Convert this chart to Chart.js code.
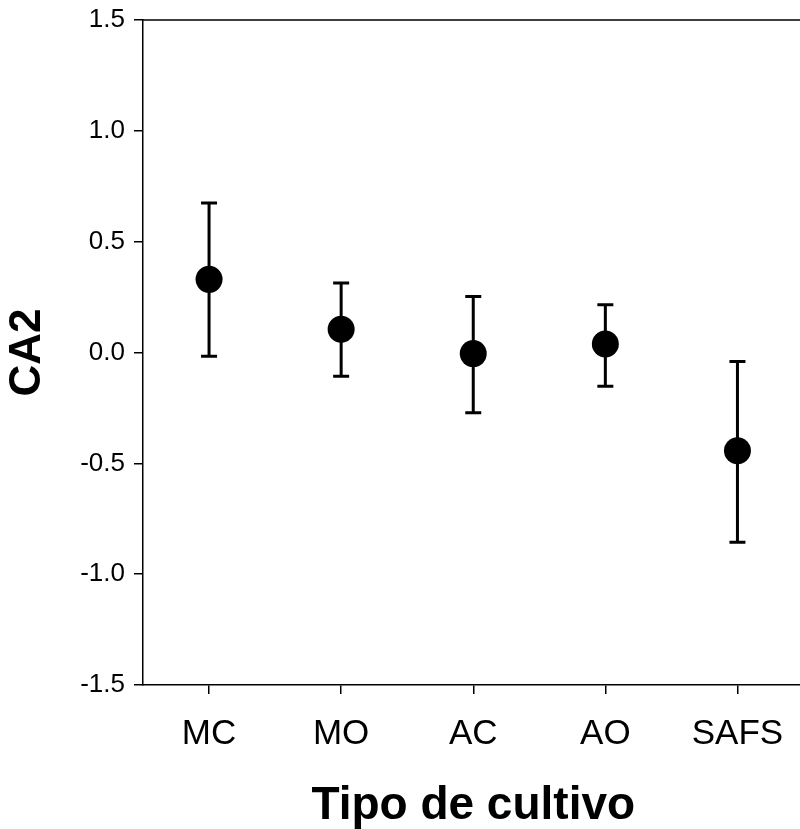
<!DOCTYPE html>
<html lang="es">
<head>
    <meta charset="UTF-8">
    <title>CA2 por tipo de cultivo</title>
    <style>
        html, body {
            margin: 0;
            padding: 0;
            background: #fff;
            overflow: hidden;
        }
        #wrap {
            width: 817px;
            height: 829px;
        }
    </style>
</head>
<body>
    <div id="wrap"><canvas id="ca2Chart" width="817" height="829"></canvas></div>

    <script src="https://cdn.jsdelivr.net/npm/chart.js"></script>
    <script>
        // values
        const cultivos = ['MC', 'MO', 'AC', 'AO', 'SAFS'];
        const media = [0.33, 0.105, -0.005, 0.038, -0.443];
        const errSup = [0.675, 0.313, 0.253, 0.215, -0.041];
        const errInf = [-0.017, -0.107, -0.272, -0.152, -0.856];
        const yTicks = [-1.5, -1.0, -0.5, 0.0, 0.5, 1.0, 1.5];

        const fontFamily = "'Liberation Sans', Arial, sans-serif";

        // error bars with caps, drawn under the points
        const errorBars = {
            id: 'errorBars',
            beforeDatasetsDraw(chart) {
                const { ctx, scales: { x, y } } = chart;
                ctx.save();
                ctx.strokeStyle = '#000';
                ctx.lineWidth = 3;
                cultivos.forEach((c, i) => {
                    const px = x.getPixelForValue(i);
                    const top = y.getPixelForValue(errSup[i]);
                    const bot = y.getPixelForValue(errInf[i]);
                    ctx.beginPath();
                    ctx.moveTo(px, top);
                    ctx.lineTo(px, bot);
                    ctx.moveTo(px - 8, top);
                    ctx.lineTo(px + 8, top);
                    ctx.moveTo(px - 8, bot);
                    ctx.lineTo(px + 8, bot);
                    ctx.stroke();
                });
                ctx.restore();
            }
        };

        // top and right frame lines
        const frame = {
            id: 'frame',
            afterDraw(chart) {
                const { ctx, chartArea: a } = chart;
                ctx.save();
                ctx.strokeStyle = '#000';
                ctx.lineWidth = 1.5;
                ctx.beginPath();
                ctx.moveTo(a.left, a.top);
                ctx.lineTo(a.right, a.top);
                ctx.lineTo(a.right, a.bottom);
                ctx.stroke();
                ctx.restore();
            }
        };

        // keep the plot box where the figure has it
        function noPad(scale) {
            scale.paddingLeft = 0;
            scale.paddingRight = 0;
            scale.paddingTop = 0;
            scale.paddingBottom = 0;
        }

        new Chart(document.getElementById('ca2Chart'), {
            type: 'line',
            data: {
                labels: cultivos,
                datasets: [{
                    data: media,
                    showLine: false,
                    pointRadius: 13.5,
                    pointHoverRadius: 13.5,
                    pointBackgroundColor: '#000',
                    pointBorderColor: '#000',
                    pointBorderWidth: 0
                }]
            },
            options: {
                responsive: false,
                animation: false,
                events: [],
                layout: { padding: { top: 20, right: 2, left: 0, bottom: 0 } },
                plugins: {
                    legend: { display: false },
                    tooltip: { enabled: false }
                },
                scales: {
                    x: {
                        type: 'category',
                        offset: true,
                        afterFit(scale) { scale.height = 144; noPad(scale); },
                        grid: {
                            offset: false,
                            drawOnChartArea: false,
                            drawTicks: true,
                            tickLength: 9,
                            color: '#000',
                            lineWidth: 1.5
                        },
                        border: { display: true, color: '#000', width: 1.5 },
                        ticks: {
                            color: '#000',
                            padding: 19,
                            font: { family: fontFamily, size: 35 }
                        },
                        title: {
                            display: true,
                            text: 'Tipo de cultivo',
                            color: '#000',
                            padding: { top: 5, bottom: 0 },
                            font: { family: fontFamily, size: 46, weight: 'bold', lineHeight: 1 }
                        }
                    },
                    y: {
                        min: -1.5,
                        max: 1.5,
                        afterFit(scale) { scale.width = 143; noPad(scale); },
                        afterBuildTicks(scale) {
                            scale.ticks = yTicks.map(v => ({ value: v }));
                        },
                        grid: {
                            drawOnChartArea: false,
                            drawTicks: true,
                            tickLength: 9,
                            color: '#000',
                            lineWidth: 1.5
                        },
                        border: { display: true, color: '#000', width: 1.5 },
                        ticks: {
                            color: '#000',
                            padding: 9,
                            font: { family: fontFamily, size: 26 },
                            callback: v => v.toFixed(1)
                        },
                        title: {
                            display: true,
                            text: 'CA2',
                            color: '#000',
                            padding: { top: 6, bottom: 0 },
                            font: { family: fontFamily, size: 44, weight: 'bold', lineHeight: 1 }
                        }
                    }
                }
            },
            plugins: [errorBars, frame]
        });
    </script>
</body>
</html>
